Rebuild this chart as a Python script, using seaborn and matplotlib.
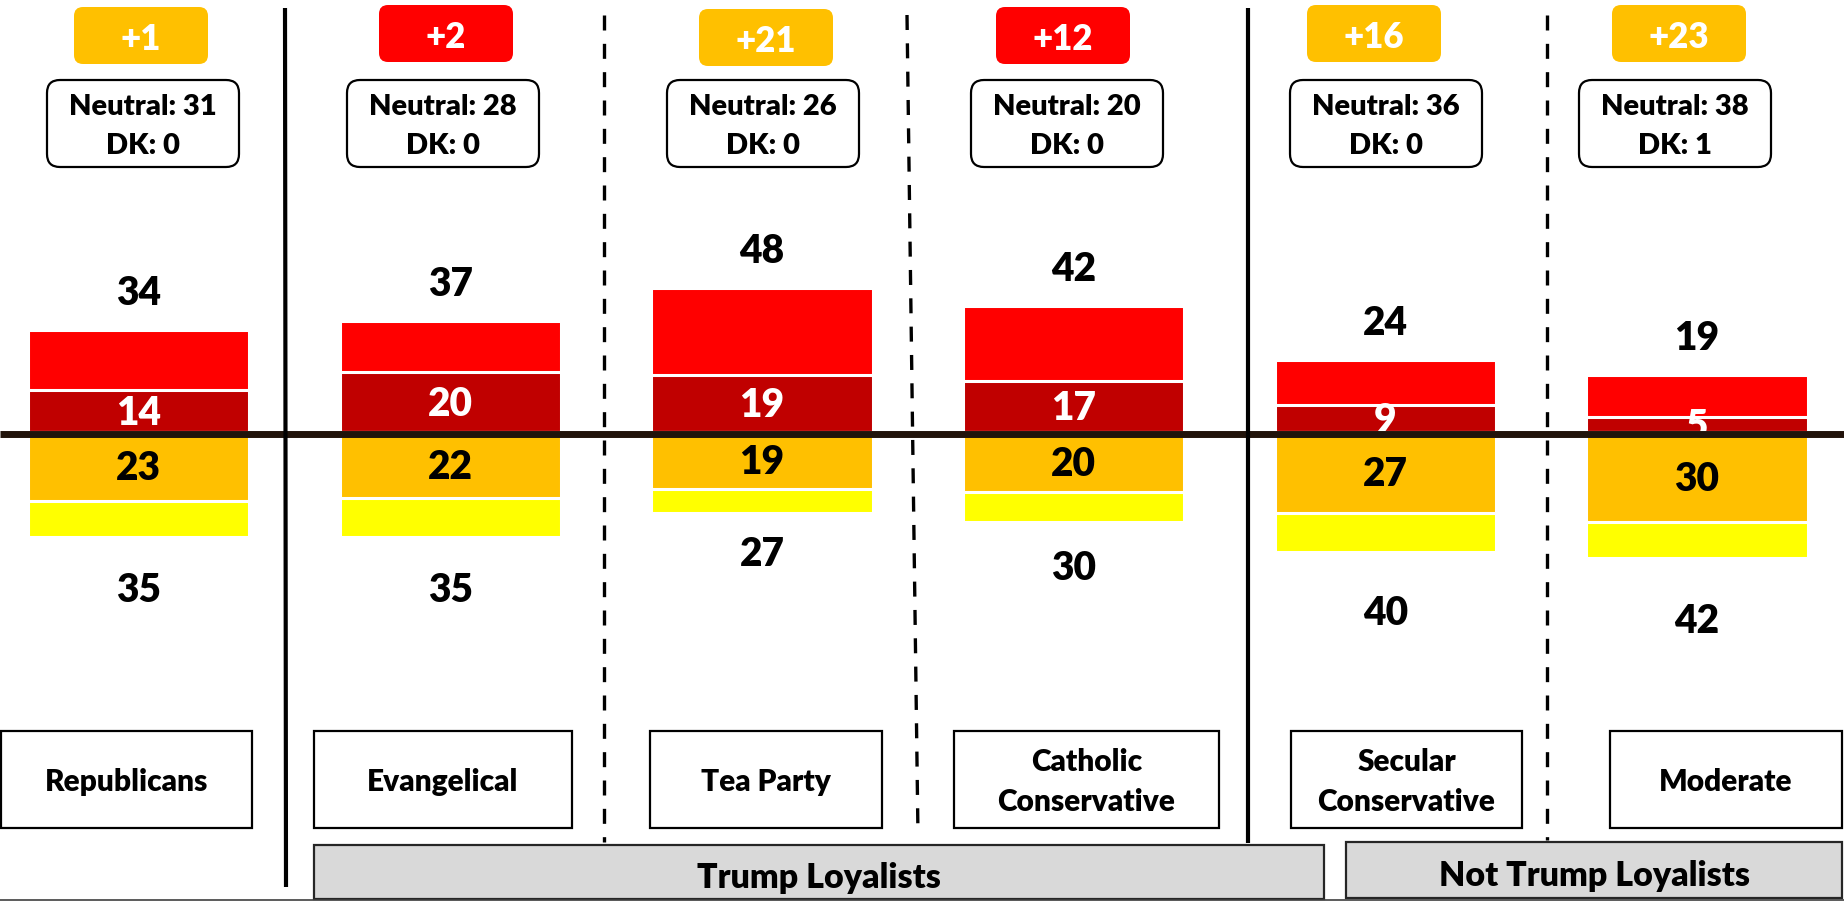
import matplotlib
matplotlib.use("Agg")
import matplotlib.pyplot as plt
from matplotlib.patches import FancyBboxPatch, Rectangle
import seaborn as sns
import pandas as pd

# ---- data ----
groups = ["Republicans", "Evangelical", "Tea Party",
          "Catholic\nConservative", "Secular\nConservative", "Moderate"]
top_total = [34, 37, 48, 42, 24, 19]        # red + dark red
top_strong = [14, 20, 19, 17, 9, 5]         # dark red segment
bottom_total = [35, 35, 27, 30, 40, 42]     # orange + yellow
bottom_inner = [23, 22, 19, 20, 27, 30]     # orange segment
neutral = [31, 28, 26, 20, 36, 38]
dont_know = [0, 0, 0, 0, 0, 1]
badge_side = ["low", "high", "low", "high", "low", "low"]
cluster_labels = ["Trump Loyalists", "Not Trump Loyalists"]

# ---- colours ----
RED = "#FF0000"
DARK_RED = "#C00000"
ORANGE = "#FFC000"
YELLOW = "#FFFF00"
GREY = "#D9D9D9"

# ---- layout (pixels of the 1844x901 canvas) ----
W, H, DPI = 1844, 901, 100
FIRST_PX, SLOT_PX = 138.5, 311.7     # bar centres
ZERO_PX, PX_PER_UNIT = 431.75, 3.0
LINE_PX = 433.5
badge_cx = [141, 446, 766, 1063, 1374, 1679]
badge_top = [7, 5, 9, 7, 5, 5]
neutral_cx = [143, 443, 763, 1067, 1386, 1675]
name_boxes = [(1, 252), (314, 572), (650, 882), (954, 1219), (1291, 1522), (1610, 1842)]
cluster_boxes = [(314, 1324, 845, 899), (1346, 1842, 842, 898)]
separators = [(285, 286, 8, 887, "-"), (604, 604, 15, 842, "--"),
              (907, 918, 15, 836, "--"), (1248, 1248, 8, 843, "-"),
              (1547, 1547, 15, 840, "--")]
WEIGHT = "heavy"

sns.set_theme(style="white")
plt.rcParams["font.family"] = ["Lato", "DejaVu Sans"]
plt.rcParams["text.color"] = "black"

df = pd.DataFrame({
    "group": groups,
    "top_total": top_total,
    "top_strong": top_strong,
    "bottom_total": [-v for v in bottom_total],
    "bottom_inner": [-v for v in bottom_inner],
})

fig = plt.figure(figsize=(W / DPI, H / DPI), dpi=DPI)
ax = fig.add_axes([0, 0, 1, 1])

bar_kw = dict(data=df, x="group", width=0.71, saturation=1, errorbar=None,
              edgecolor="white", linewidth=2.2, ax=ax)
sns.barplot(y="top_total", color=RED, **bar_kw)
sns.barplot(y="top_strong", color=DARK_RED, **bar_kw)
sns.barplot(y="bottom_total", color=YELLOW, **bar_kw)
sns.barplot(y="bottom_inner", color=ORANGE, **bar_kw)

ax.set_xlim(-FIRST_PX / SLOT_PX, (W - FIRST_PX) / SLOT_PX)
ax.set_ylim(-(H - ZERO_PX) / PX_PER_UNIT, ZERO_PX / PX_PER_UNIT)
ax.axis("off")

# value labels (baseline = visual centre minus half the digit height)
half_digit = 14 / PX_PER_UNIT
lab_kw = dict(ha="center", va="baseline", fontsize=28, fontweight=WEIGHT, zorder=3)
for i in range(len(groups)):
    ax.text(i, top_total[i] + 12.8 - half_digit, str(top_total[i]), **lab_kw)
    ax.text(i, -1.49 * bottom_total[i] - half_digit, str(bottom_total[i]), **lab_kw)
    ax.text(i, top_strong[i] / 2 - half_digit, str(top_strong[i]), color="white", **lab_kw)
    ax.text(i, -bottom_inner[i] / 2 - half_digit, str(bottom_inner[i]), **lab_kw)

# ---- overlay in pixel coordinates for the annotation boxes ----
ov = fig.add_axes([0, 0, 1, 1])
ov.set_xlim(0, W)
ov.set_ylim(H, 0)
ov.axis("off")

# zero line, drawn over the segment labels
ov.plot([0, W], [LINE_PX, LINE_PX], color="#21130A", lw=5, solid_capstyle="butt")

for i in range(len(groups)):
    # difference badge
    diff = abs(top_total[i] - bottom_total[i])
    colour = RED if badge_side[i] == "high" else ORANGE
    ov.add_patch(FancyBboxPatch((badge_cx[i] - 67, badge_top[i]), 134, 57,
                                boxstyle="round,pad=0,rounding_size=9",
                                fc=colour, ec="none"))
    ov.text(badge_cx[i], badge_top[i] + 30.5 + 12.5, f"+{diff}", color="white",
            ha="center", va="baseline", fontsize=25, fontweight=WEIGHT)

    # neutral / don't know box
    ov.add_patch(FancyBboxPatch((neutral_cx[i] - 96, 80), 192, 87,
                                boxstyle="round,pad=0,rounding_size=13",
                                fc="white", ec="black", lw=1.6))
    ov.text(neutral_cx[i], 115, f"Neutral: {neutral[i]}", ha="center",
            va="baseline", fontsize=21, fontweight=WEIGHT)
    ov.text(neutral_cx[i], 154, f"DK: {dont_know[i]}", ha="center",
            va="baseline", fontsize=21, fontweight=WEIGHT)

    # group name box
    x0, x1 = name_boxes[i]
    ov.add_patch(Rectangle((x0, 731), x1 - x0, 97, fc="white", ec="black", lw=1.6))
    lines = groups[i].split("\n")
    cy = 781 - 20 * (len(lines) - 1)
    for k, line in enumerate(lines):
        ov.text((x0 + x1) / 2, cy + 40 * k + 10, line, ha="center",
                va="baseline", fontsize=21.5, fontweight=WEIGHT)

# separators between groups
for xt, xb, yt, yb, ls in separators:
    if ls == "-":
        ov.plot([xt, xb], [yt, yb], color="black", lw=3, solid_capstyle="butt")
    else:
        ov.plot([xt, xb], [yt, yb], color="black", lw=2.4,
                linestyle=(0, (4.5, 4.0)), dash_capstyle="butt")

# cluster labels along the bottom
ov.plot([0, W], [899.5, 899.5], color="#404040", lw=1.2)
for (x0, x1, y0, y1), label in zip(cluster_boxes, cluster_labels):
    ov.add_patch(Rectangle((x0, y0), x1 - x0, y1 - y0, fc=GREY, ec="#262626", lw=1.6))
    ov.text((x0 + x1) / 2, (y0 + y1) / 2 + 4 + 11.5, label, ha="center",
            va="baseline", fontsize=24.5, fontweight=WEIGHT)

fig.savefig("out.png", dpi=DPI, facecolor="white")
